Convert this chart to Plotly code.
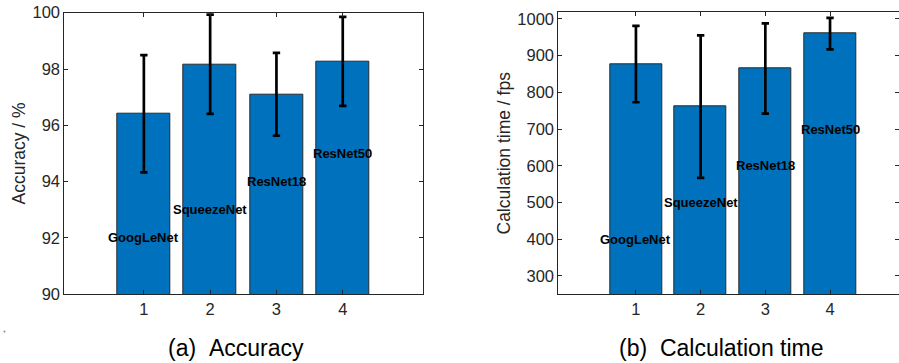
import plotly.graph_objects as go

# ---- data ----
models = ["GoogLeNet", "SqueezeNet", "ResNet18", "ResNet50"]
positions = [1, 2, 3, 4]
accuracy = [96.41, 98.17, 97.10, 98.27]
accuracy_err = [2.08, 1.76, 1.47, 1.58]
accuracy_label_y = [92, 93, 94, 95]
fps = [877, 761, 865, 960]
fps_err = [104, 194, 123, 43]
fps_label_y = [400, 500, 600, 700]
acc_ticks = [90, 92, 94, 96, 98, 100]
fps_ticks = [300, 400, 500, 600, 700, 800, 900, 1000]

W, H = 899, 363
BAR = "#0072BD"
AX = "#262626"
FONT = "Liberation Sans, Arial, Helvetica, sans-serif"

fig = go.Figure()

def add_bars(x, y, err, xa, ya):
    fig.add_trace(go.Bar(
        x=x, y=y, width=0.8, xaxis=xa, yaxis=ya,
        marker=dict(color=BAR, line=dict(color="#2a2a2a", width=1)),
        error_y=dict(type="data", array=err, symmetric=True,
                     color="black", thickness=2.7, width=3.7),
        showlegend=False, hoverinfo="skip",
    ))

add_bars(positions, accuracy, accuracy_err, "x", "y")
add_bars(positions, fps, fps_err, "x2", "y2")

def px_x(p):
    return p / W

def px_y(p):
    return (H - p) / H

axis_common = dict(
    showline=True, linecolor=AX, linewidth=1, mirror="ticks",
    ticks="inside", ticklen=4, tickcolor=AX, tickwidth=1,
    showgrid=False, zeroline=False, automargin=False,
    tickfont=dict(family=FONT, size=16.5, color=AX),
)

fig.update_layout(
    width=W, height=H,
    margin=dict(l=0, r=0, t=0, b=0, autoexpand=False),
    paper_bgcolor="white", plot_bgcolor="white",
    bargap=0,
    xaxis=dict(domain=[px_x(64.3), px_x(423.3)], range=[-0.2, 5.215],
               tickvals=positions, anchor="y", **axis_common),
    yaxis=dict(domain=[px_y(294.3), px_y(12.7)], range=[90, 100],
               tickvals=acc_ticks, anchor="x", **axis_common),
    xaxis2=dict(domain=[px_x(558.3), 1.0], range=[-0.2, 5.066],
                tickvals=positions, anchor="y2", **axis_common),
    yaxis2=dict(domain=[px_y(294.3), px_y(12.3)], range=[250, 1018],
                tickvals=fps_ticks, anchor="x2", **axis_common),
)

annotations = []
for xi, yi, name in zip(positions, accuracy_label_y, models):
    annotations.append(dict(x=xi, y=yi, xref="x", yref="y", text="<b>%s</b>" % name,
                            showarrow=False, font=dict(family=FONT, size=13, color="black"),
                            xanchor="center", yanchor="middle"))
for xi, yi, name in zip(positions, fps_label_y, models):
    annotations.append(dict(x=xi, y=yi, xref="x2", yref="y2", text="<b>%s</b>" % name,
                            showarrow=False, font=dict(family=FONT, size=13, color="black"),
                            xanchor="center", yanchor="middle"))

# y-axis titles
annotations.append(dict(x=px_x(18), y=px_y(153.5), xref="paper", yref="paper",
                        text="Accuracy / %", textangle=-90, showarrow=False,
                        font=dict(family=FONT, size=17.5, color=AX),
                        xanchor="center", yanchor="middle"))
annotations.append(dict(x=px_x(503), y=px_y(153.5), xref="paper", yref="paper",
                        text="Calculation time / fps", textangle=-90, showarrow=False,
                        font=dict(family=FONT, size=17.5, color=AX),
                        xanchor="center", yanchor="middle"))

annotations.append(dict(x=px_x(236), y=px_y(348), xref="paper", yref="paper",
                        text="(a) \u00a0Accuracy", showarrow=False,
                        font=dict(family=FONT, size=23, color="black"),
                        xanchor="center", yanchor="middle"))
annotations.append(dict(x=px_x(721), y=px_y(348), xref="paper", yref="paper",
                        text="(b) \u00a0Calculation time", showarrow=False,
                        font=dict(family=FONT, size=23, color="black"),
                        xanchor="center", yanchor="middle"))
fig.update_layout(annotations=annotations)

# small stray dot in reference
fig.add_shape(type="circle", xref="paper", yref="paper",
              x0=px_x(3.5), x1=px_x(5.5), y0=px_y(332.5), y1=px_y(330.5),
              fillcolor="#8a8a70", line=dict(width=0))

fig.write_html("out.html", config={"displayModeBar": False},
               post_script="document.body.style.margin='0px';document.body.style.overflow='hidden';")
